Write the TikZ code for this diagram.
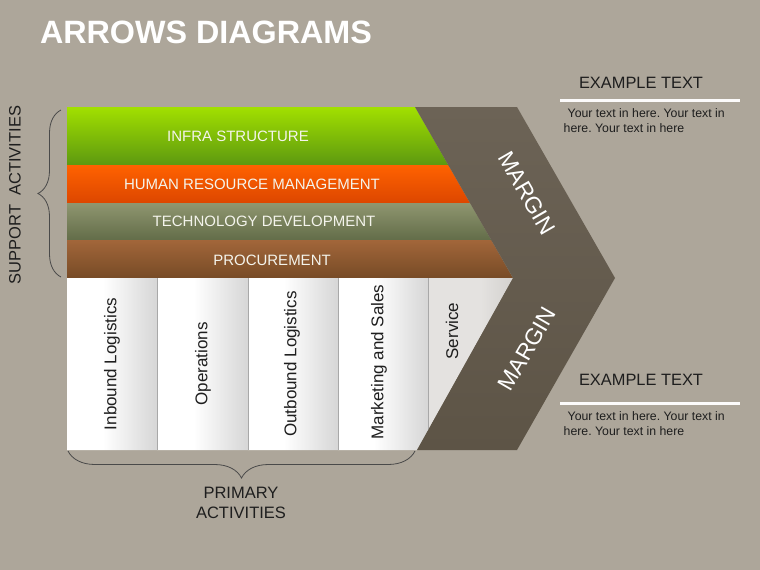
\documentclass[tikz,border=0pt]{standalone}
\usepackage{fontspec}
\setmainfont{Liberation Sans}
\usetikzlibrary{decorations.pathreplacing}
\frenchspacing
\definecolor{bg}{HTML}{ADA69A}
\definecolor{gA}{HTML}{A2E000}
\definecolor{gB}{HTML}{5C9810}
\definecolor{oA}{HTML}{FF6200}
\definecolor{oB}{HTML}{DC4600}
\definecolor{vA}{HTML}{8F9670}
\definecolor{vB}{HTML}{626C48}
\definecolor{bA}{HTML}{A2663A}
\definecolor{bB}{HTML}{774B26}
\definecolor{chA}{HTML}{6C6356}
\definecolor{chB}{HTML}{5D5446}
\definecolor{colR}{HTML}{D6D6D6}
\definecolor{srvA}{HTML}{E4E2E0}
\definecolor{srvB}{HTML}{D2D0CD}
\definecolor{divc}{HTML}{A8A8A8}
\definecolor{ink}{HTML}{1E1E1E}
\definecolor{bracec}{HTML}{4A4A4A}
\definecolor{bandtxt}{HTML}{F4F4EC}
\pgfdeclarehorizontalshading{colshade}{100bp}{color(0bp)=(white); color(25bp)=(white); color(45bp)=(white); color(75bp)=(colR); color(100bp)=(colR)}
\pgfdeclarehorizontalshading{srvshade}{100bp}{color(0bp)=(srvA); color(25bp)=(srvA); color(55bp)=(srvA); color(75bp)=(srvB); color(100bp)=(srvB)}
\tikzset{
  bandlabel/.style={text=bandtxt,font=\fontsize{15}{17}\selectfont,inner sep=0pt},
  collabel/.style={text=ink,font=\fontsize{17}{19}\selectfont,rotate=90,inner sep=0pt},
  marginlabel/.style={text=white,font=\fontsize{23}{25}\selectfont,inner sep=0pt},
  headlabel/.style={text=ink,font=\fontsize{16.4}{18}\selectfont,inner sep=0pt},
  bodylabel/.style={text=ink,font=\fontsize{12.3}{15}\selectfont,inner sep=0pt,align=left,anchor=north west},
  sidelabel/.style={text=ink,font=\fontsize{16.5}{20.5}\selectfont,inner sep=0pt,align=center},
  divider/.style={draw=divc,line width=0.8pt},
  bracepath/.style={draw=bracec,line width=0.8pt,decorate},
  rule/.style={draw=white!96!bg,line width=3pt}
}
\begin{document}
\begin{tikzpicture}[x=1pt,y=-1pt]
\fill[bg] (0,0) rectangle (760,570);
\useasboundingbox (0,0) rectangle (760,570);

% title
\node[text=white,font=\bfseries\fontsize{32.3}{34}\selectfont,inner sep=0pt] (title) at (206,32) {ARROWS DIAGRAMS};

% support bands
\begin{scope}
\clip (67,107) -- (415,107) -- (513,278) -- (67,278) -- cycle;
\shade[top color=gA,bottom color=gB] (67,107) rectangle (530,165.5);
\shade[top color=oA,bottom color=oB] (67,165) rectangle (530,203.5);
\shade[top color=vA,bottom color=vB] (67,203) rectangle (530,240.5);
\shade[top color=bA,bottom color=bB] (67,240) rectangle (530,278);
\end{scope}

% primary columns
\begin{scope}
\clip (67,278) -- (513,278) -- (417,450) -- (67,450) -- cycle;
\shade[shading=colshade] (67,278) rectangle (157,450);
\shade[shading=colshade] (157,278) rectangle (248,450);
\shade[shading=colshade] (248,278) rectangle (338,450);
\shade[shading=colshade] (338,278) rectangle (428,450);
\shade[shading=srvshade] (428,278) rectangle (515,450);
\draw[divider] (157,278) -- (157,450);
\draw[divider] (248,278) -- (248,450);
\draw[divider] (338,278) -- (338,450);
\draw[divider] (428,278) -- (428,450);
\end{scope}

% chevron
\shade[top color=chA,bottom color=chB] (415,107) -- (517,107) -- (615,278) -- (517,450) -- (417,450) -- (513,278) -- cycle;

% band labels
\node[bandlabel] (infra) at (238,136) {INFRA STRUCTURE};
\node[bandlabel] (hrm) at (252,184) {HUMAN RESOURCE MANAGEMENT};
\node[bandlabel] (tech) at (264,221) {TECHNOLOGY DEVELOPMENT};
\node[bandlabel] (proc) at (272,260) {PROCUREMENT};

% column labels
\node[collabel] (inbound) at (112,364) {Inbound Logistics};
\node[collabel] (ops) at (203,364) {Operations};
\node[collabel] (outbound) at (292,364) {Outbound Logistics};
\node[collabel] (mkt) at (379,362) {Marketing and Sales};
\node[collabel] (service) at (452,331) {Service};

% margin labels
\node[marginlabel,rotate=-60] (marginA) at (527,193) {MARGIN};
\node[marginlabel,rotate=60] (marginB) at (527,349) {MARGIN};

% braces
\coordinate (sbTop) at (61,110);
\coordinate (sbBot) at (61,277);
\draw[bracepath,decoration={brace,amplitude=23pt}] (sbBot) -- (sbTop);
\node[sidelabel,rotate=90] (support) at (15,195) {SUPPORT\ \ ACTIVITIES};

\coordinate (pbL) at (68,451);
\coordinate (pbR) at (415,451);
\draw[bracepath,decoration={brace,amplitude=27pt}] (pbR) -- (pbL);
\node[sidelabel] (primary) at (241,503) {PRIMARY\\ACTIVITIES};

% right texts
\node[headlabel] (exA) at (641,83) {EXAMPLE TEXT};
\coordinate (ruleAL) at (560,100.5);
\coordinate (ruleAR) at (740,100.5);
\draw[rule] (ruleAL) -- (ruleAR);
\node[bodylabel] (bodyA) at (563.5,108) {\hspace*{4pt}Your text in here. Your text in\\here. Your text in here};

\node[headlabel] (exB) at (641,380) {EXAMPLE TEXT};
\coordinate (ruleBL) at (560,403.5);
\coordinate (ruleBR) at (740,403.5);
\draw[rule] (ruleBL) -- (ruleBR);
\node[bodylabel] (bodyB) at (563.5,411) {\hspace*{4pt}Your text in here. Your text in\\here. Your text in here};
\end{tikzpicture}
\end{document}
